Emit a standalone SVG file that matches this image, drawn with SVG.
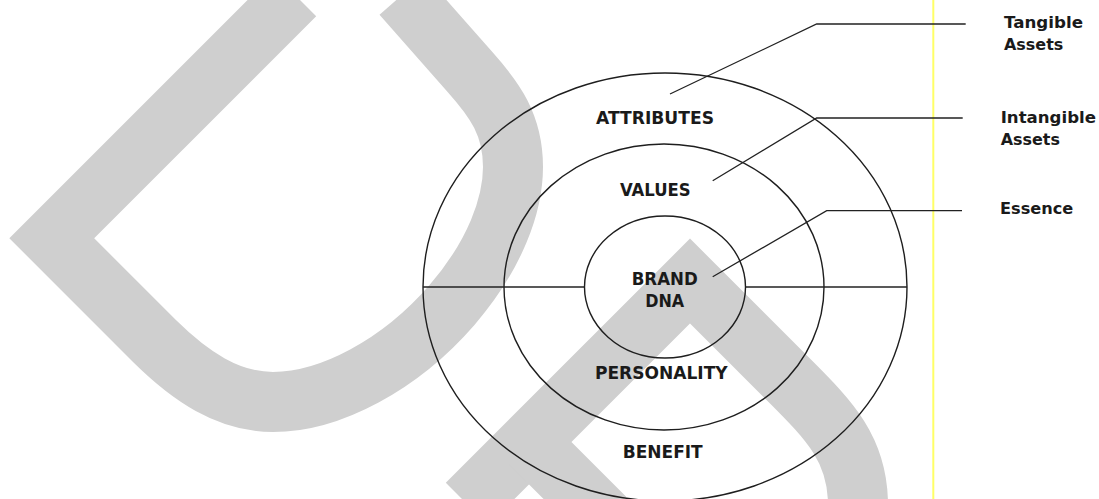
<svg xmlns="http://www.w3.org/2000/svg" width="1099" height="499" viewBox="0 0 1099 499">
  <style>
    .wm { fill: none; stroke: #cfcfcf; stroke-width: 60; stroke-linejoin: miter; stroke-miterlimit: 10; }
    .ring { fill: none; stroke: #1e1e1e; stroke-width: 1.4; }
    .ln { fill: none; stroke: #222; stroke-width: 1.3; }
    .lbl { font-family: "DejaVu Sans", Verdana, sans-serif; font-weight: bold; font-size: 17px; fill: #1a1a1a; text-anchor: middle; }
    .side { font-family: "DejaVu Sans", Verdana, sans-serif; font-weight: bold; font-size: 15.5px; fill: #1a1a1a; }
  </style>
  <rect width="1099" height="499" fill="#ffffff"/>
  <g id="watermark">
    <path class="wm" d="M 295 -5 L 51.75 238.25 L 155 341.5 C 190 376, 228 402, 273 402 C 330 402, 400 365, 452 305 C 495 255, 513 205, 513 167 C 513 125, 495 100, 470 72 L 402 -5"/>
    <path class="wm" d="M 467 504 L 690 281 L 790 381 C 830 421, 858 450, 858 505"/>
    <path class="wm" d="M 529 442 L 605 518"/>
  </g>
  <line id="divider" x1="933.3" y1="0" x2="933.3" y2="499" stroke="#ffff66" stroke-width="2"/>
  <g id="outer-ring">
    <ellipse class="ring" cx="665" cy="287" rx="242" ry="214"/>
    <text class="lbl" x="655" y="124" textLength="118" lengthAdjust="spacingAndGlyphs">ATTRIBUTES</text>
    <text class="lbl" x="662.7" y="458.3" textLength="80" lengthAdjust="spacingAndGlyphs">BENEFIT</text>
  </g>
  <g id="middle-ring">
    <ellipse class="ring" cx="664" cy="287" rx="160" ry="143"/>
    <text class="lbl" x="655.3" y="196" textLength="70.7" lengthAdjust="spacingAndGlyphs">VALUES</text>
    <text class="lbl" x="661.3" y="379.3" textLength="132.7" lengthAdjust="spacingAndGlyphs">PERSONALITY</text>
  </g>
  <g id="inner-ring">
    <ellipse class="ring" cx="665" cy="287" rx="80.5" ry="71"/>
    <text class="lbl" x="664.7" y="285" textLength="66" lengthAdjust="spacingAndGlyphs">BRAND</text>
    <text class="lbl" x="664.7" y="307.3" textLength="39" lengthAdjust="spacingAndGlyphs">DNA</text>
  </g>
  <g id="connectors">
    <line class="ln" x1="423" y1="287" x2="584.5" y2="287"/>
    <line class="ln" x1="745.5" y1="287" x2="907" y2="287"/>
    <polyline class="ln" points="670,94 816.7,24 965.7,24"/>
    <polyline class="ln" points="712.7,180.7 816.7,118 962.7,118"/>
    <polyline class="ln" points="712.7,276.7 826.7,210.7 962,210.7"/>
  </g>
  <g id="tangible-assets">
    <text class="side" x="1004" y="28.3" textLength="79" lengthAdjust="spacingAndGlyphs">Tangible</text>
    <text class="side" x="1004" y="50" textLength="59.3" lengthAdjust="spacingAndGlyphs">Assets</text>
  </g>
  <g id="intangible-assets">
    <text class="side" x="1000.7" y="122.7" textLength="95.3" lengthAdjust="spacingAndGlyphs">Intangible</text>
    <text class="side" x="1000.7" y="145" textLength="59.3" lengthAdjust="spacingAndGlyphs">Assets</text>
  </g>
  <g id="essence">
    <text class="side" x="1000" y="214.3" textLength="73.3" lengthAdjust="spacingAndGlyphs">Essence</text>
  </g>
</svg>
